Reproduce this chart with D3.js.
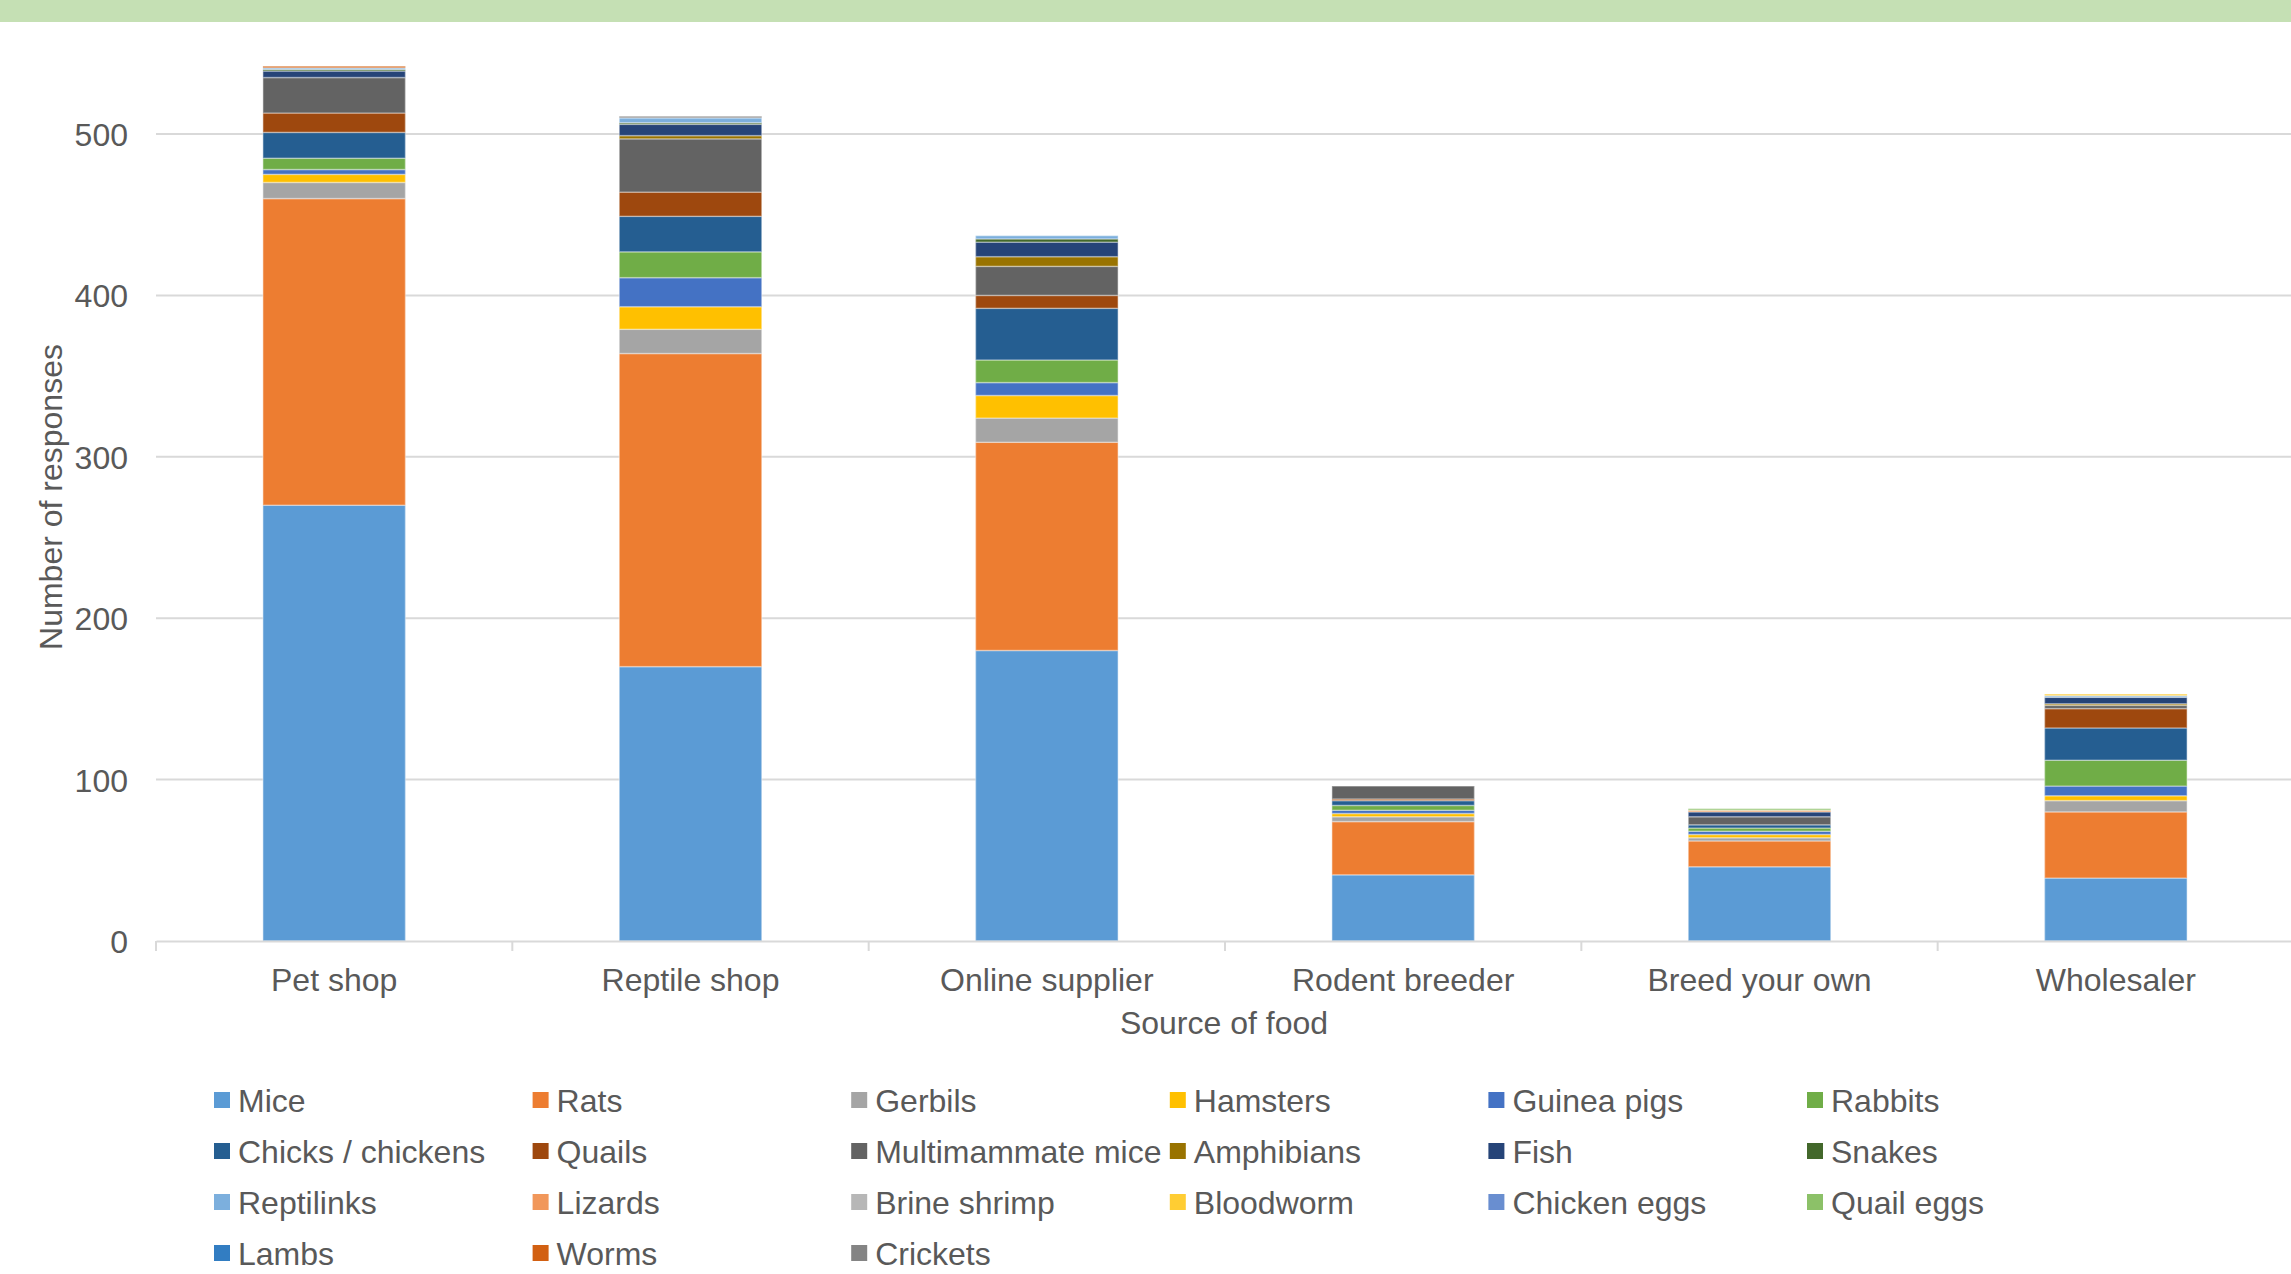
<!DOCTYPE html>
<html>
<head>
<meta charset="utf-8">
<script src="https://cdn.jsdelivr.net/npm/d3@7"></script>
<style>
html,body{margin:0;padding:0;background:#fff;}
svg{display:block;font-family:"Liberation Sans",Arial,sans-serif;}
</style>
</head>
<body>
<svg id="chart" width="2291" height="1274"></svg>
<script>
const categories = ["Pet shop","Reptile shop","Online supplier","Rodent breeder","Breed your own","Wholesaler"];
const seriesNames = ["Mice","Rats","Gerbils","Hamsters","Guinea pigs","Rabbits","Chicks / chickens","Quails","Multimammate mice","Amphibians","Fish","Snakes","Reptilinks","Lizards","Brine shrimp","Bloodworm","Chicken eggs","Quail eggs","Lambs","Worms","Crickets"];
const seriesColors = ["#5B9BD5","#ED7D31","#A5A5A5","#FFC000","#4472C4","#70AD47","#255E91","#9E480E","#636363","#997300","#264478","#43682B","#7CAFDD","#F1975A","#B7B7B7","#FFCD33","#698ED0","#8CC168","#327DC2","#D26012","#848484"];
// values per series, in category order
const mice        = [270, 170, 180, 41, 46, 39];
const rats        = [190, 194, 129, 33, 16, 41];
const gerbils     = [10, 15, 15, 3, 2, 7];
const hamsters    = [5, 14, 14, 2, 2, 3];
const guineaPigs  = [3, 18, 8, 2, 2, 6];
const rabbits     = [7, 16, 14, 3, 2, 16];
const chicks      = [16, 22, 32, 3, 2, 20];
const quails      = [12, 15, 8, 1, 0, 12];
const multimammate= [22, 33, 18, 8, 5, 2];
const amphibians  = [0, 2, 6, 0, 0, 1];
const fish        = [4, 7, 9, 0, 3, 4];
const snakes      = [1, 1, 2, 0, 0, 0];
const reptilinks  = [1, 3, 2, 0, 0, 1];
const lizards     = [0, 0, 0, 0, 1, 0];
const brineShrimp = [0, 0, 0, 0, 0, 0];
const bloodworm   = [0, 0, 0, 0, 0, 1];
const chickenEggs = [0, 0, 0, 0, 0, 0];
const quailEggs   = [0, 0, 0, 0, 1, 0];
const lambs       = [0, 0, 0, 0, 0, 0];
const worms       = [1, 0, 0, 0, 0, 0];
const crickets    = [0, 1, 0, 0, 0, 0];
const yTicks = [0, 100, 200, 300, 400, 500];

const seriesValues = [mice,rats,gerbils,hamsters,guineaPigs,rabbits,chicks,quails,multimammate,amphibians,fish,snakes,reptilinks,lizards,brineShrimp,bloodworm,chickenEggs,quailEggs,lambs,worms,crickets];

const table = categories.map((c,i)=>{
  const row = {category:c};
  seriesNames.forEach((s,j)=>{ row[s] = seriesValues[j][i]; });
  return row;
});

const svg = d3.select("#chart");
const textColor = "#595959";
const fontSize = 32;

// top banner
svg.append("rect").attr("x",0).attr("y",0).attr("width",2291).attr("height",22).attr("fill","#C5E0B4");

const plotLeft = 156, plotRight = 2294;
const x = d3.scaleBand().domain(categories).range([plotLeft, plotRight]).paddingInner(0).paddingOuter(0);
const y = d3.scaleLinear().domain([0,500]).range([941,134]);

// gridlines
svg.append("g").selectAll("line").data(yTicks.filter(t=>t>0)).join("line")
  .attr("x1",plotLeft).attr("x2",2291)
  .attr("y1",d=>y(d)).attr("y2",d=>y(d))
  .attr("stroke","#D9D9D9").attr("stroke-width",2);

// y axis labels
const yAxis = d3.axisLeft(y).tickValues(yTicks).tickSize(0).tickPadding(0);
const gy = svg.append("g").attr("transform","translate(128,0)").call(yAxis);
gy.select(".domain").remove();
gy.selectAll("text").attr("font-size",fontSize).attr("fill",textColor)
  .attr("font-family","'Liberation Sans',Arial,sans-serif").attr("dy","0.36em");

// stacked bars
const stack = d3.stack().keys(seriesNames);
const stacked = stack(table);
const barW = x.bandwidth()*0.4;
const gBars = svg.append("g");
stacked.forEach((layer,j)=>{
  gBars.append("g").attr("fill",seriesColors[j])
    .selectAll("rect").data(layer.filter(d=>d[1]-d[0]>0)).join("rect")
    .attr("x",d=>x(d.data.category)+(x.bandwidth()-barW)/2)
    .attr("width",barW)
    .attr("y",d=>y(d[1]))
    .attr("height",d=>y(d[0])-y(d[1]))
    .attr("stroke","#ffffff").attr("stroke-opacity",0.35).attr("stroke-width",1.5);
});

// x axis
const xAxis = d3.axisBottom(x).tickSize(0).tickPadding(0);
const gx = svg.append("g").attr("transform",`translate(0,${y(0)})`).call(xAxis);
gx.select(".domain").attr("stroke","#D9D9D9").attr("stroke-width",2);
gx.selectAll("text").attr("font-size",fontSize).attr("fill",textColor)
  .attr("font-family","'Liberation Sans',Arial,sans-serif").attr("dy","0").attr("y",50);
// boundary ticks
const bounds = categories.map(c=>x(c)).concat([plotRight]);
svg.append("g").selectAll("line").data(bounds).join("line")
  .attr("x1",d=>d).attr("x2",d=>d).attr("y1",y(0)).attr("y2",y(0)+10)
  .attr("stroke","#D9D9D9").attr("stroke-width",2);

// axis titles
svg.append("text").attr("x",1224).attr("y",1034).attr("text-anchor","middle")
  .attr("font-size",fontSize).attr("fill",textColor).text("Source of food");
svg.append("text").attr("transform","translate(62,497) rotate(-90)").attr("text-anchor","middle")
  .attr("font-size",fontSize).attr("fill",textColor).text("Number of responses");

// legend
const legCols = 6, colX0 = 214, colW = 318.6, rowY0 = 1100, rowH = 51;
const leg = svg.append("g");
seriesNames.forEach((s,i)=>{
  const cx = colX0 + (i%legCols)*colW;
  const cy = rowY0 + Math.floor(i/legCols)*rowH;
  leg.append("rect").attr("x",cx).attr("y",cy-8).attr("width",16).attr("height",16).attr("fill",seriesColors[i]);
  leg.append("text").attr("x",cx+24).attr("y",cy).attr("dy","0.36em")
    .attr("font-size",fontSize).attr("fill",textColor).text(s);
});
</script>
</body>
</html>
